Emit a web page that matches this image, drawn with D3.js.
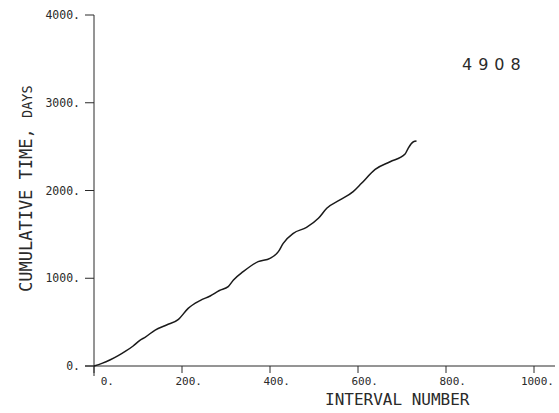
<!DOCTYPE html>
<html>
<head>
<meta charset="utf-8">
<script src="https://cdn.jsdelivr.net/npm/d3@7"></script>
<style>
  body { margin: 0; background: #fff; }
  text { fill: #2a2a2a; }
</style>
</head>
<body>
<div id="chart"></div>
<script>
// data
const intervalNumber = [0, 18, 36, 55, 70, 89, 105, 116, 139, 165, 192, 214, 241, 264, 285, 305, 317, 339, 373, 400, 419, 430, 453, 483, 510, 529, 559, 589, 608, 639, 673, 707, 714, 726, 733];
const cumulativeDays = [0, 30, 68, 118, 163, 228, 296, 327, 410, 467, 532, 657, 745, 798, 860, 904, 980, 1075, 1189, 1227, 1303, 1398, 1512, 1580, 1683, 1797, 1892, 1987, 2082, 2241, 2328, 2416, 2481, 2556, 2564];
const xTicks = [0, 200, 400, 600, 800, 1000];
const yTicks = [0, 1000, 2000, 3000, 4000];
const stationLabel = "4908";

const options = {
  width: 559,
  height: 413,
  mono: "'DejaVu Sans Mono', 'Liberation Mono', monospace",
  ink: "#2a2a2a"
};

const svg = d3.select("#chart").append("svg")
  .attr("width", options.width)
  .attr("height", options.height);

const x = d3.scaleLinear().domain([0, 1000]).range([94, 534]);
const y = d3.scaleLinear().domain([0, 4000]).range([366, 15]);

// axis lines (x runs past 1000, y runs a little below 0)
svg.append("line")
  .attr("x1", 85).attr("x2", 555)
  .attr("y1", y(0)).attr("y2", y(0))
  .attr("stroke", options.ink).attr("stroke-width", 1);
svg.append("line")
  .attr("x1", x(0)).attr("x2", x(0))
  .attr("y1", y(4000)).attr("y2", y(0) + 10)
  .attr("stroke", options.ink).attr("stroke-width", 1);

// x ticks + labels (labels sit right-aligned past the tick)
svg.selectAll("line.xtick").data(xTicks).enter().append("line")
  .attr("class", "xtick")
  .attr("x1", d => x(d)).attr("x2", d => x(d))
  .attr("y1", y(0)).attr("y2", y(0) + 7)
  .attr("stroke", options.ink);
svg.selectAll("text.xlab").data(xTicks).enter().append("text")
  .attr("class", "xlab")
  .attr("x", d => x(d) + 20)
  .attr("y", 385)
  .attr("text-anchor", "end")
  .style("font-family", options.mono)
  .style("font-size", "11px")
  .text(d => d + ".");

// y ticks + labels
svg.selectAll("line.ytick").data(yTicks).enter().append("line")
  .attr("class", "ytick")
  .attr("x1", x(0) - 9).attr("x2", x(0))
  .attr("y1", d => y(d)).attr("y2", d => y(d))
  .attr("stroke", options.ink);
svg.selectAll("text.ylab").data(yTicks).enter().append("text")
  .attr("class", "ylab")
  .attr("x", 80)
  .attr("y", d => y(d))
  .attr("dy", "0.35em")
  .attr("text-anchor", "end")
  .style("font-family", options.mono)
  .style("font-size", "11.5px")
  .text(d => d + ".");

// axis titles
svg.append("text")
  .attr("x", 325)
  .attr("y", 405)
  .style("font-family", options.mono)
  .style("font-size", "16px")
  .text("INTERVAL NUMBER");

const yTitle = svg.append("text")
  .attr("transform", "translate(32,292) rotate(-90)")
  .style("font-family", options.mono);
yTitle.append("tspan").style("font-size", "17px").text("CUMULATIVE TIME, ");
yTitle.append("tspan").style("font-size", "13.5px").text("DAYS");

// station number
svg.append("text")
  .attr("x", 462)
  .attr("y", 70)
  .style("font-family", "'DejaVu Sans', sans-serif")
  .style("font-size", "16px")
  .style("letter-spacing", "6px")
  .text(stationLabel);

// the curve
const points = intervalNumber.map((n, i) => [n, cumulativeDays[i]]);
const line = d3.line()
  .x(d => x(d[0]))
  .y(d => y(d[1]))
  .curve(d3.curveMonotoneX);

svg.append("path")
  .datum(points)
  .attr("d", line)
  .attr("fill", "none")
  .attr("stroke", "#1a1a1a")
  .attr("stroke-width", 1.5);
</script>
</body>
</html>
